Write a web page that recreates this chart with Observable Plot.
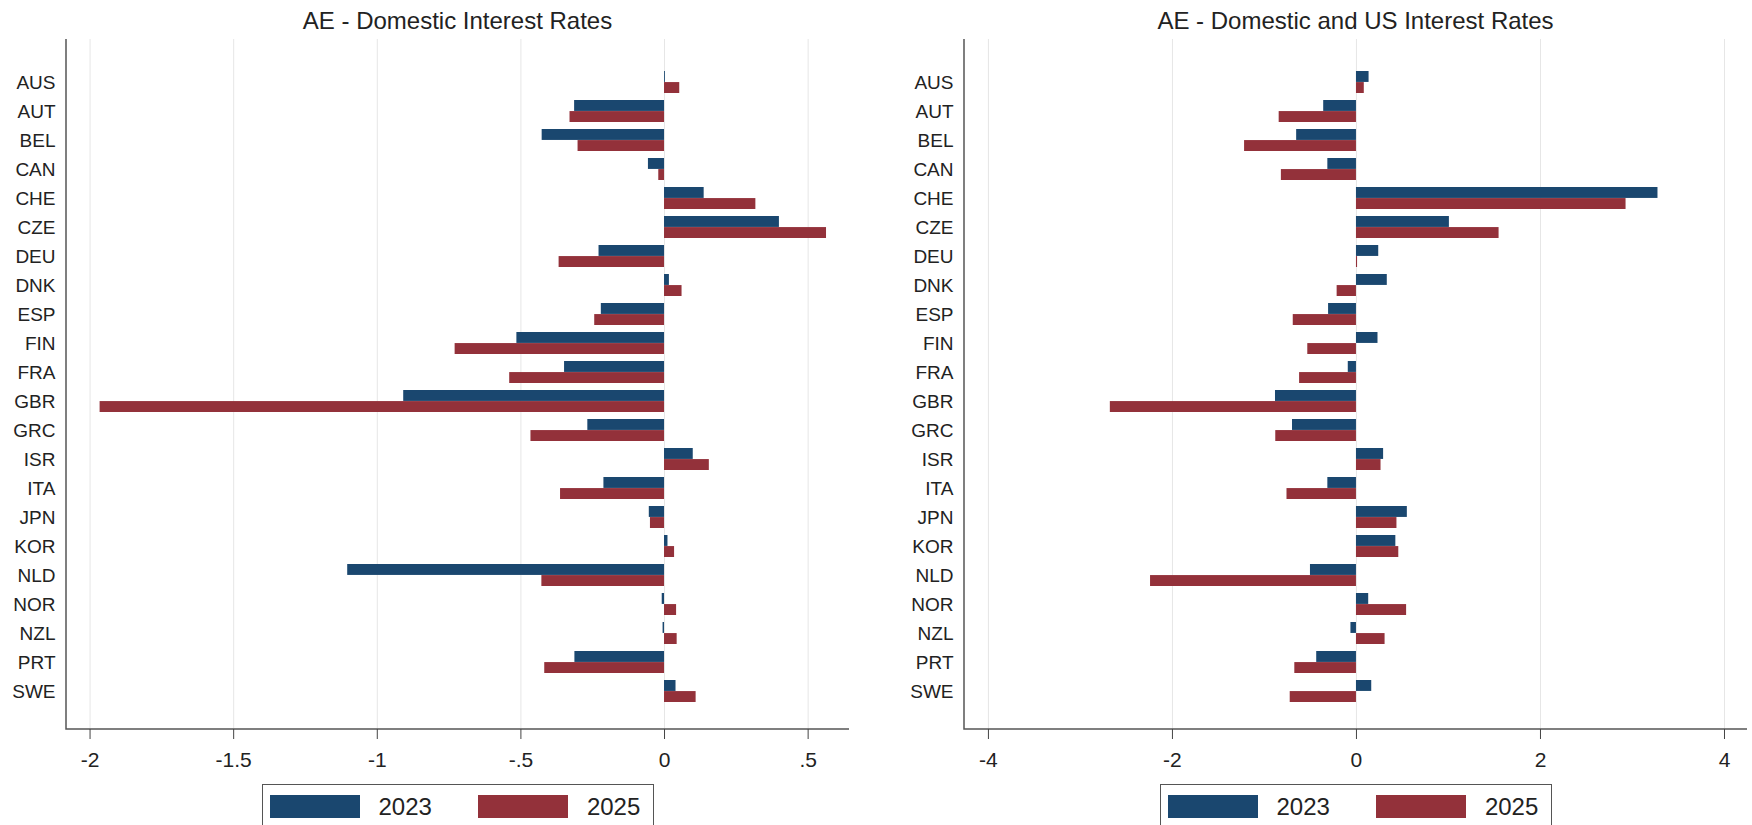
<!DOCTYPE html>
<html>
<head>
<meta charset="utf-8">
<script src="https://cdn.jsdelivr.net/npm/d3@7"></script>
<script src="https://cdn.jsdelivr.net/npm/@observablehq/plot@0.6"></script>
<style>
  html, body { margin: 0; padding: 0; background: #fff; }
  body { width: 1752px; height: 825px; overflow: hidden; position: relative;
         font-family: "Liberation Sans", Arial, Helvetica, sans-serif; color: #222; }
  .panel { position: absolute; top: 0; width: 876px; height: 825px; }
  .panel svg { position: absolute; left: 0; top: 0; }
  .title { position: absolute; top: 9px; font-size: 24px; line-height: 1; text-align: center; white-space: nowrap; }
  .legend { position: absolute; top: 784px; height: 50px; box-sizing: border-box; border: 1px solid #555;
            display: flex; align-items: flex-start; padding-top: 10px; background: #fff; }
  .legend .sw { width: 90px; height: 23px; }
  .legend .lab { font-size: 24px; line-height: 23px; margin-left: 19px; }
</style>
</head>
<body>
<div id="left" class="panel" style="left:0px"></div>
<div id="right" class="panel" style="left:876px"></div>
<script>
// ---------------- data ----------------
const countries = ["AUS","AUT","BEL","CAN","CHE","CZE","DEU","DNK","ESP","FIN","FRA",
                   "GBR","GRC","ISR","ITA","JPN","KOR","NLD","NOR","NZL","PRT","SWE"];
const years = ["2023", "2025"];
const colors = ["#1a476f", "#93313a"];

// AE - Domestic Interest Rates
const domestic2023 = [0.003,-0.313,-0.426,-0.056,0.138,0.400,-0.228,0.017,-0.220,-0.514,-0.348,
                      -0.908,-0.267,0.100,-0.211,-0.053,0.012,-1.103,-0.008,-0.005,-0.312,0.040];
const domestic2025 = [0.053,-0.329,-0.301,-0.020,0.318,0.564,-0.367,0.061,-0.243,-0.729,-0.539,
                      -1.965,-0.465,0.156,-0.362,-0.049,0.035,-0.427,0.042,0.044,-0.417,0.110];

// AE - Domestic and US Interest Rates
const domUS2023 = [0.137,-0.356,-0.650,-0.311,3.277,1.010,0.242,0.335,-0.303,0.234,-0.089,
                   -0.880,-0.695,0.295,-0.311,0.553,0.428,-0.500,0.133,-0.060,-0.432,0.166];
const domUS2025 = [0.085,-0.840,-1.216,-0.816,2.930,1.550,0.012,-0.210,-0.687,-0.529,-0.618,
                   -2.675,-0.877,0.267,-0.755,0.440,0.460,-2.238,0.545,0.311,-0.670,-0.720];

const leftTicks = [-2, -1.5, -1, -0.5, 0, 0.5];
const leftTickLabels = ["-2", "-1.5", "-1", "-.5", "0", ".5"];
const rightTicks = [-4, -2, 0, 2, 4];
const rightTickLabels = ["-4", "-2", "0", "2", "4"];

const leftDomain = [-2.082, 0.644];
const rightDomain = [-4.26, 4.25];

// ---------------- chart ----------------
function rowsFor(values) {
  return countries.map((c, i) => ({country: c, value: values[i]}));
}

function panel(el, cfg) {
  const width = 876, height = 779;
  const marginTop = 39, marginBottom = 50;
  const {marginLeft, marginRight} = cfg;
  const paddingInner = 0.25, paddingOuter = 0.81, align = 0.54;
  const frameH = height - marginTop - marginBottom;
  const step = frameH / (countries.length - paddingInner + 2 * paddingOuter);
  const half = step * (1 - paddingInner) / 2;

  const axisLines = (index, scales, values, dim) => {
    const p = d3.create("svg:path")
      .attr("d", `M${dim.marginLeft},${dim.marginTop}V${dim.height - dim.marginBottom}H${dim.width - dim.marginRight}`)
      .attr("fill", "none").attr("stroke", "#555").attr("stroke-width", 1.5);
    return p.node();
  };

  const chart = Plot.plot({
    width, height, marginTop, marginBottom, marginLeft, marginRight,
    style: {fontFamily: '"Liberation Sans", Arial, Helvetica, sans-serif', color: "#222", background: "transparent", overflow: "visible"},
    x: {domain: cfg.domain, axis: null},
    y: {domain: countries, type: "band", paddingInner, paddingOuter, align, axis: null},
    marks: [
      Plot.gridX(cfg.ticks, {stroke: "#e6e6e6", strokeOpacity: 1, strokeWidth: 1}),
      Plot.barX(rowsFor(cfg.v2023), {x: "value", y: "country", fill: colors[0], insetBottom: half}),
      Plot.barX(rowsFor(cfg.v2025), {x: "value", y: "country", fill: colors[1], insetTop: half}),
      axisLines,
      Plot.axisX({ticks: cfg.ticks, tickFormat: d => cfg.labels[cfg.ticks.indexOf(d)],
                  tickSize: 10, tickPadding: 13, fontSize: 21, label: null, stroke: "#444"}),
      Plot.axisY({tickSize: 0, tickPadding: 11, fontSize: 19, label: null})
    ]
  });
  el.appendChild(chart);

  const frameW = width - marginLeft - marginRight;
  const t = document.createElement("div");
  t.className = "title";
  t.style.left = marginLeft + "px";
  t.style.width = frameW + "px";
  t.textContent = cfg.title;
  el.appendChild(t);

  const boxW = 392;
  const lg = document.createElement("div");
  lg.className = "legend";
  lg.style.left = (marginLeft + frameW / 2 - boxW / 2) + "px";
  lg.style.width = boxW + "px";
  years.forEach((y, i) => {
    const sw = document.createElement("div");
    sw.className = "sw";
    sw.style.background = colors[i];
    sw.style.marginLeft = (i === 0 ? 7 : 46) + "px";
    const lab = document.createElement("div");
    lab.className = "lab";
    lab.textContent = y;
    lg.appendChild(sw);
    lg.appendChild(lab);
  });
  el.appendChild(lg);
}

panel(document.getElementById("left"), {
  title: "AE - Domestic Interest Rates",
  v2023: domestic2023, v2025: domestic2025,
  domain: leftDomain, ticks: leftTicks, labels: leftTickLabels,
  marginLeft: 66, marginRight: 27
});
panel(document.getElementById("right"), {
  title: "AE - Domestic and US Interest Rates",
  v2023: domUS2023, v2025: domUS2025,
  domain: rightDomain, ticks: rightTicks, labels: rightTickLabels,
  marginLeft: 88, marginRight: 5
});
</script>
</body>
</html>
